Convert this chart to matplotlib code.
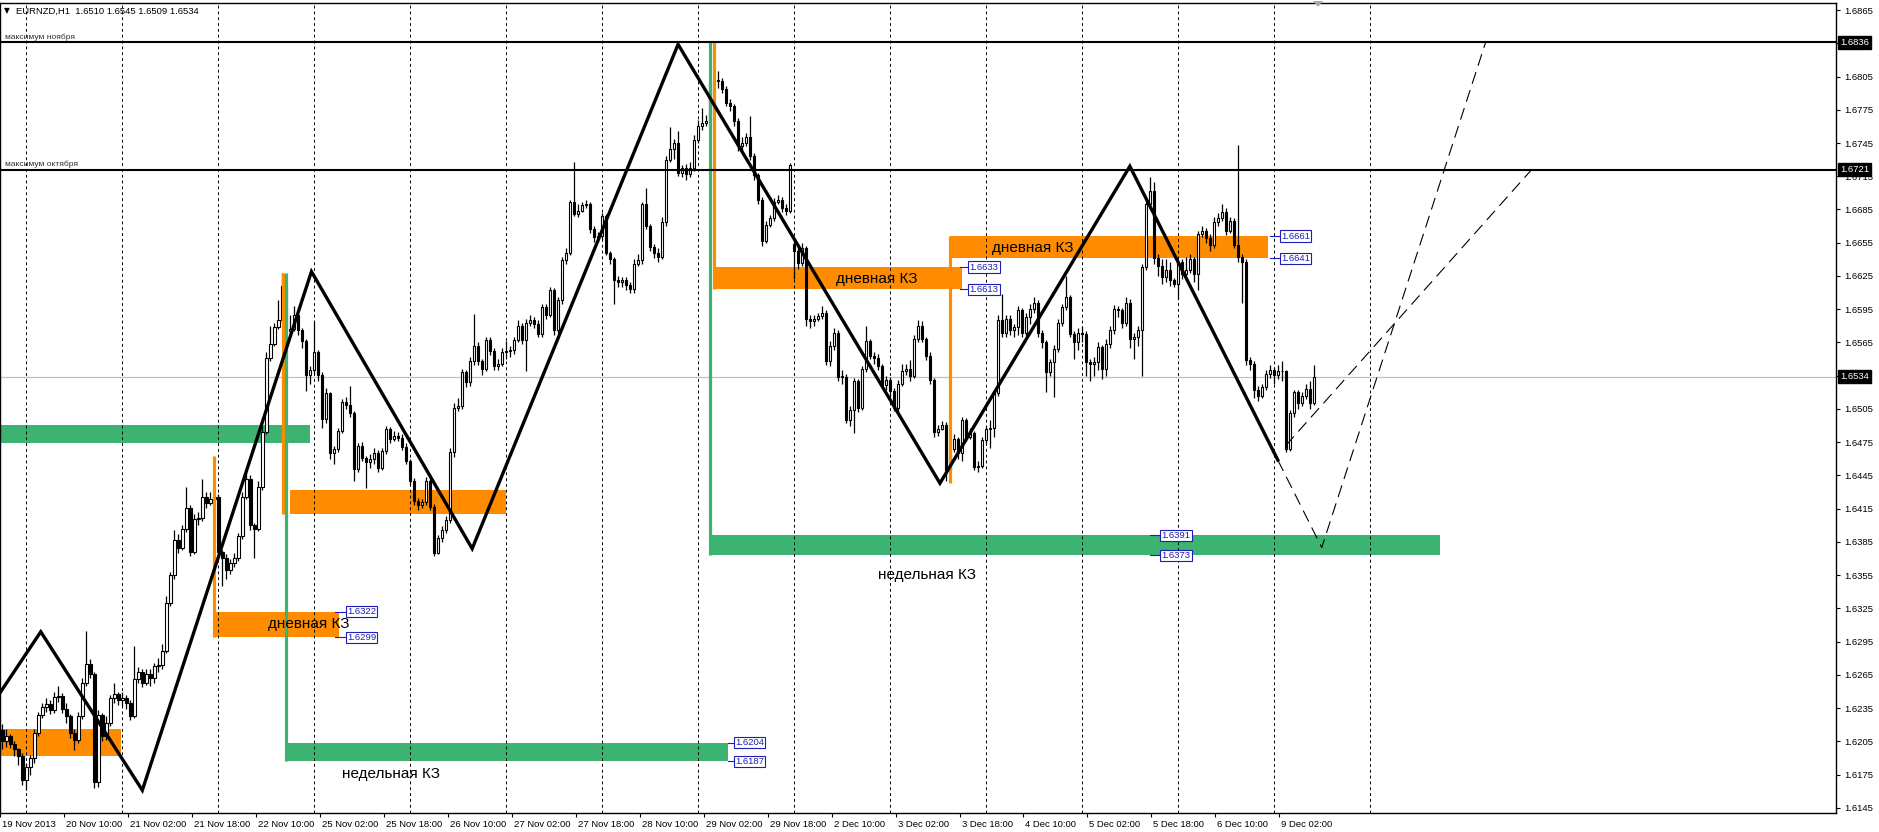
import numpy as np
import matplotlib.pyplot as plt
import matplotlib.transforms as mtransforms
from matplotlib.patches import Polygon

plt.rcParams['font.family'] = ['Liberation Sans', 'DejaVu Sans']

# EURNZD H1, pips above 1.6000, bars from 19 Nov 18:00 to 9 Dec 10:00
close = [205, 210, 203, 198, 192, 170, 182, 190, 213, 229,
         236, 239, 233, 245, 246, 234, 228, 213, 206, 228,
         258, 275, 266, 168, 229, 210, 222, 244, 248, 242,
         244, 240, 228, 261, 268, 258, 266, 262, 273, 274,
         287, 330, 355, 387, 380, 397, 416, 376, 406, 407,
         426, 420, 424, 426, 376, 371, 360, 366, 371, 390,
         426, 442, 400, 397, 435, 484, 551, 564, 579, 585,
         616, 575, 577, 590, 576, 566, 536, 540, 556, 536,
         496, 519, 465, 469, 485, 511, 509, 501, 451, 472,
         461, 457, 460, 465, 452, 467, 487, 478, 481, 479,
         471, 458, 440, 422, 418, 421, 440, 417, 375, 389,
         396, 405, 466, 506, 508, 538, 529, 548, 562, 548,
         541, 567, 557, 544, 546, 556, 557, 558, 567, 580,
         567, 583, 585, 582, 573, 597, 590, 612, 576, 603,
         639, 646, 692, 681, 684, 689, 690, 667, 660, 661,
         679, 646, 640, 621, 620, 621, 617, 613, 636, 639,
         690, 670, 651, 646, 642, 674, 730, 740, 745, 718,
         722, 717, 722, 748, 760, 763, 765, 800, 802, 801,
         794, 781, 778, 765, 742, 745, 750, 733, 716, 694,
         657, 671, 677, 692, 694, 686, 684, 725, 648, 637,
         650, 586, 584, 586, 589, 592, 548, 562, 574, 534,
         534, 495, 504, 530, 506, 541, 566, 553, 551, 544,
         527, 531, 521, 506, 528, 539, 541, 535, 568, 580,
         568, 553, 531, 484, 487, 491, 450, 469, 478, 465,
         495, 480, 483, 453, 454, 477, 487, 488, 519, 585,
         574, 586, 576, 579, 594, 574, 588, 595, 601, 574,
         565, 538, 547, 559, 583, 597, 606, 573, 565, 574,
         573, 547, 546, 547, 561, 541, 564, 576, 595, 594,
         583, 601, 568, 570, 576, 633, 690, 702, 641, 634,
         624, 630, 621, 618, 638, 627, 630, 640, 627, 663,
         666, 659, 653, 674, 677, 683, 666, 675, 653, 642,
         638, 549, 546, 522, 517, 525, 537, 540, 536, 539,
         539, 469, 501, 520, 510, 517, 523, 510, 534]
high = [221, 216, 212, 205, 199, 195, 186, 193, 216, 232,
        240, 244, 242, 250, 255, 249, 240, 230, 216, 232,
        262, 305, 279, 268, 233, 231, 228, 247, 258, 250,
        250, 247, 242, 291, 272, 270, 270, 270, 276, 280,
        293, 336, 358, 396, 392, 400, 435, 418, 410, 412,
        442, 430, 430, 434, 428, 378, 374, 370, 375, 393,
        430, 448, 445, 402, 440, 490, 556, 580, 583, 603,
        628, 620, 590, 598, 594, 578, 568, 544, 584, 558,
        538, 524, 520, 472, 488, 514, 516, 526, 503, 474,
        475, 463, 464, 470, 468, 470, 490, 489, 485, 484,
        482, 474, 460, 443, 425, 424, 444, 443, 419, 391,
        399, 408, 470, 510, 515, 541, 540, 552, 591, 565,
        550, 570, 570, 560, 550, 560, 566, 562, 570, 585,
        583, 586, 590, 588, 585, 600, 600, 615, 614, 606,
        642, 650, 694, 728, 690, 692, 694, 692, 670, 665,
        682, 681, 648, 642, 625, 624, 624, 620, 640, 645,
        692, 704, 672, 654, 650, 678, 733, 759, 749, 756,
        725, 726, 728, 752, 766, 777, 770, 803, 834, 810,
        804, 796, 785, 780, 768, 750, 754, 769, 736, 718,
        696, 675, 680, 695, 698, 696, 690, 727, 660, 650,
        655, 652, 590, 590, 592, 598, 594, 566, 578, 576,
        540, 537, 508, 533, 532, 544, 580, 568, 556, 555,
        546, 535, 534, 524, 531, 546, 546, 549, 572, 585,
        584, 570, 556, 533, 491, 494, 493, 472, 482, 480,
        498, 497, 488, 485, 458, 480, 490, 495, 522, 590,
        609, 590, 590, 582, 598, 596, 592, 600, 606, 603,
        576, 567, 550, 563, 586, 600, 625, 608, 575, 578,
        580, 575, 550, 552, 565, 563, 568, 580, 599, 598,
        596, 606, 604, 574, 580, 636, 693, 714, 710, 645,
        640, 640, 638, 623, 640, 640, 642, 645, 642, 666,
        670, 668, 663, 678, 682, 690, 686, 678, 677, 743,
        645, 640, 552, 548, 526, 528, 540, 545, 543, 545,
        548, 540, 504, 522, 522, 520, 528, 530, 545]
low = [198, 200, 199, 192, 184, 166, 161, 175, 186, 210,
       226, 232, 230, 231, 241, 231, 222, 208, 197, 204,
       225, 255, 262, 163, 164, 205, 206, 219, 240, 238,
       237, 234, 224, 226, 258, 254, 256, 255, 258, 268,
       270, 285, 327, 352, 375, 378, 394, 372, 374, 400,
       404, 416, 418, 420, 372, 345, 352, 356, 362, 368,
       388, 424, 396, 371, 395, 432, 482, 548, 562, 577,
       583, 570, 570, 575, 572, 560, 521, 528, 537, 530,
       488, 492, 460, 455, 466, 483, 505, 498, 440, 448,
       458, 434, 452, 455, 448, 450, 464, 474, 476, 476,
       468, 455, 436, 418, 414, 416, 418, 414, 372, 374,
       385, 393, 402, 462, 503, 505, 525, 526, 545, 545,
       536, 539, 554, 540, 540, 544, 550, 552, 555, 565,
       564, 539, 580, 578, 570, 570, 586, 588, 572, 574,
       600, 636, 644, 679, 678, 683, 686, 664, 656, 656,
       658, 644, 636, 600, 615, 615, 612, 610, 610, 634,
       636, 667, 648, 641, 638, 640, 670, 728, 731, 715,
       714, 712, 714, 720, 745, 757, 760, 763, 765, 795,
       790, 778, 774, 760, 738, 738, 742, 730, 712, 690,
       652, 655, 669, 675, 690, 683, 680, 682, 622, 631,
       634, 580, 578, 580, 584, 586, 545, 544, 558, 530,
       528, 492, 490, 483, 502, 504, 538, 550, 546, 540,
       524, 522, 516, 503, 502, 526, 536, 530, 533, 565,
       565, 549, 528, 480, 481, 486, 440, 445, 466, 460,
       458, 476, 478, 450, 448, 452, 474, 470, 480, 517,
       570, 570, 572, 570, 572, 570, 570, 582, 592, 570,
       560, 520, 535, 516, 556, 580, 594, 570, 550, 558,
       565, 535, 530, 535, 540, 532, 535, 560, 573, 588,
       578, 580, 560, 550, 562, 535, 630, 688, 636, 625,
       618, 620, 616, 615, 604, 622, 625, 628, 620, 612,
       660, 655, 648, 650, 670, 675, 662, 664, 650, 638,
       601, 545, 540, 515, 512, 515, 522, 533, 528, 532,
       530, 466, 467, 498, 505, 508, 514, 505, 509]
first_open = 215
gap_opens = {198: 654}   # Monday 2 Dec opened with a gap

xlabels = ["19 Nov 2013", "20 Nov 10:00", "21 Nov 02:00", "21 Nov 18:00", "22 Nov 10:00",
           "25 Nov 02:00", "25 Nov 18:00", "26 Nov 10:00", "27 Nov 02:00", "27 Nov 18:00",
           "28 Nov 10:00", "29 Nov 02:00", "29 Nov 18:00", "2 Dec 10:00", "3 Dec 02:00",
           "3 Dec 18:00", "4 Dec 10:00", "5 Dec 02:00", "5 Dec 18:00", "6 Dec 10:00", "9 Dec 02:00"]
xlabel_bars = list(range(0, 321, 16))
day_starts = list(range(6, 343, 24))
yticks = [round(1.6145 + 0.003 * k, 4) for k in range(25)]
hidden_ticks = [1.6835, 1.6535]   # covered by the price boxes

# zones: (start bar, end bar, low, high, colour)
zones = [(-5, 76.9, 1.6474, 1.6491, 'green'),
         (-5, 29.6, 1.6192, 1.6216, 'orange'),
         (52.9, 84.1, 1.6299, 1.6322, 'orange'),
         (71.9, 125.9, 1.6410, 1.6432, 'orange'),
         (70.6, 181.4, 1.6187, 1.6204, 'green'),
         (177.9, 239.9, 1.6613, 1.6633, 'orange'),
         (236.9, 316.6, 1.6641, 1.6661, 'orange'),
         (177.4, 359.6, 1.6373, 1.6391, 'green')]
# vertical markers: (bar, top, bottom, colour)
markers = [(52.9, 1.6463, 1.6299, 'orange'),
           (70.1, 1.6628, 1.6410, 'orange'),
           (70.9, 1.6628, 1.6187, 'green'),
           (176.9, 1.6836, 1.6373, 'green'),
           (177.9, 1.6836, 1.6613, 'orange'),
           (236.9, 1.6661, 1.6438, 'orange')]
# zone names: (bar, price, text)
zone_names = [(66.4, 1.6311, "дневная КЗ"),
              (208.4, 1.6622, "дневная КЗ"),
              (247.4, 1.6650, "дневная КЗ"),
              (85.0, 1.6176, "недельная КЗ"),
              (219.0, 1.6355, "недельная КЗ")]
# price tags: (line start bar, box bar, price)
tags = [(83.1, 85.9, 1.6322), (83.1, 85.9, 1.6299),
        (181.4, 182.9, 1.6204), (181.4, 182.9, 1.6187),
        (239.6, 241.6, 1.6633), (239.6, 241.6, 1.6613),
        (317.1, 319.6, 1.6661), (317.1, 319.6, 1.6641),
        (287.1, 289.6, 1.6391), (287.1, 289.6, 1.6373)]

zig_bars = [-0.4, 9.6, 35.0, 77.3, 117.5, 169.0, 234.5, 282.0, 319.0]
zig_prices = [1.6250, 1.6304, 1.6161, 1.6629, 1.6379, 1.6834, 1.6438, 1.6724, 1.6459]
proj1_bars = [319.0, 330.0, 371.0]
proj1_prices = [1.6459, 1.6380, 1.6836]
proj2_bars = [321.0, 382.5]
proj2_prices = [1.6472, 1.6721]

levels = [(1.6836, "максимум ноября"), (1.6721, "максимум октября")]
bid = 1.6534

ORANGE = '#FF8C00'
GREEN = '#3CB371'
TAGBLUE = '#1E1EB4'
colours = {'orange': ORANGE, 'green': GREEN}

W, H = 1879, 832
fig = plt.figure(figsize=(W / 100, H / 100), dpi=100)
fig.patch.set_facecolor('white')
ax = fig.add_axes([0, 1 - 813 / H, 1836 / W, 810 / H])
ax.set_xlim(-0.375, 458.625)
ax.set_ylim(1.614047, 1.687132)

o = [first_open] + close[:-1]
for k, v in gap_opens.items():
    o[k] = v
O = 1.6 + np.array(o) / 1e4
C = 1.6 + np.array(close) / 1e4
Hi = 1.6 + np.array(high) / 1e4
Lo = 1.6 + np.array(low) / 1e4
idx = np.arange(len(C))

for x0, x1, lo, hi, col in zones:
    ax.fill_between([x0, x1], lo, hi, color=colours[col], lw=0, zorder=1)

for d in day_starts:
    ax.axvline(d, color='black', lw=0.7, ls=(0, (3, 3)), zorder=1.5)

ax.axhline(bid, color='#C0C0C0', lw=0.9, zorder=1.6)

# candles
ax.vlines(idx, np.minimum(Lo, np.minimum(O, C)), np.maximum(Hi, np.maximum(O, C)),
          color='black', lw=0.9, zorder=2.5)
body = np.maximum(np.abs(C - O), 0.00004)
faces = ['white' if c >= op else 'black' for op, c in zip(O, C)]
ax.bar(idx, body, bottom=np.minimum(O, C), width=0.62, color=faces,
       edgecolor='black', linewidth=0.8, zorder=3)

for b, top, bot, col in markers:
    ax.plot([b, b], [bot, top], color=colours[col], lw=2.3, zorder=3.5, solid_capstyle='butt')

for p, name in levels:
    ax.axhline(p, color='black', lw=1.5, zorder=4)

ax.plot(zig_bars, zig_prices, color='black', lw=2.4, zorder=4.5, solid_joinstyle='miter')
ax.plot(proj1_bars, proj1_prices, color='black', lw=0.8, dashes=(11, 6), zorder=4.5)
ax.plot(proj2_bars, proj2_prices, color='black', lw=0.8, dashes=(11, 6), zorder=4.5)

for b, p, txt in zone_names:
    ax.text(b, p, txt, fontsize=11, ha='left', va='center', color='black', zorder=6)

for lb, bb, p in tags:
    ax.plot([lb, bb], [p, p], color=TAGBLUE, lw=0.8, zorder=6)
    ax.text(bb + 0.3, p, f"{p:.4f}", fontsize=6.8, ha='left', va='center', color=TAGBLUE, zorder=7,
            bbox=dict(boxstyle='square,pad=0.12', fc='white', ec=TAGBLUE, lw=0.8))

# axes, ticks
for s in ax.spines.values():
    s.set_color('black')
    s.set_linewidth(1)
ax.yaxis.tick_right()
ax.set_yticks(yticks)
ax.set_yticklabels(["" if t in hidden_ticks else f"{t:.4f}" for t in yticks])
ax.tick_params(axis='y', direction='out', length=3, pad=3, labelsize=6.8, width=0.8)
ax.set_xticks([b - 0.6 for b in xlabel_bars])
ax.set_xticklabels(xlabels)
ax.tick_params(axis='x', direction='out', length=3, pad=2, labelsize=6.8, width=0.8)
shift = mtransforms.ScaledTranslation(2 / 100, 0, fig.dpi_scale_trans)
for lab in ax.get_xticklabels():
    lab.set_horizontalalignment('left')
    lab.set_transform(lab.get_transform() + shift)

# black price boxes on the scale
tr = mtransforms.blended_transform_factory(ax.transAxes, ax.transData) + \
    mtransforms.ScaledTranslation(4 / 100, 0, fig.dpi_scale_trans)
for p in [lv[0] for lv in levels] + [bid]:
    ax.text(1.0, p, f"{p:.4f}", transform=tr, fontsize=6.8, color='white', ha='left', va='center',
            clip_on=False, zorder=8, bbox=dict(boxstyle='square,pad=0.2', fc='black', ec='black'))

# level captions and header
for p, name in levels:
    ax.text(0.6, p + 0.00012, name, fontsize=6, color='#303030', ha='left', va='bottom', zorder=6)
fig.text(4 / W, 1 - 11 / H, "\u25bc", fontsize=5.5, ha='left', va='center', family='DejaVu Sans')
fig.text(16 / W, 1 - 11 / H, "EURNZD,H1  1.6510 1.6545 1.6509 1.6534", fontsize=6.8,
         ha='left', va='center')
fig.patches.append(Polygon([(1313 / W, 1 - 1 / H), (1323 / W, 1 - 1 / H), (1318 / W, 1 - 7 / H)],
                           closed=True, transform=fig.transFigure, fc='#A8A8A8', ec='none'))

fig.savefig('out.png', dpi=100, facecolor='white')
